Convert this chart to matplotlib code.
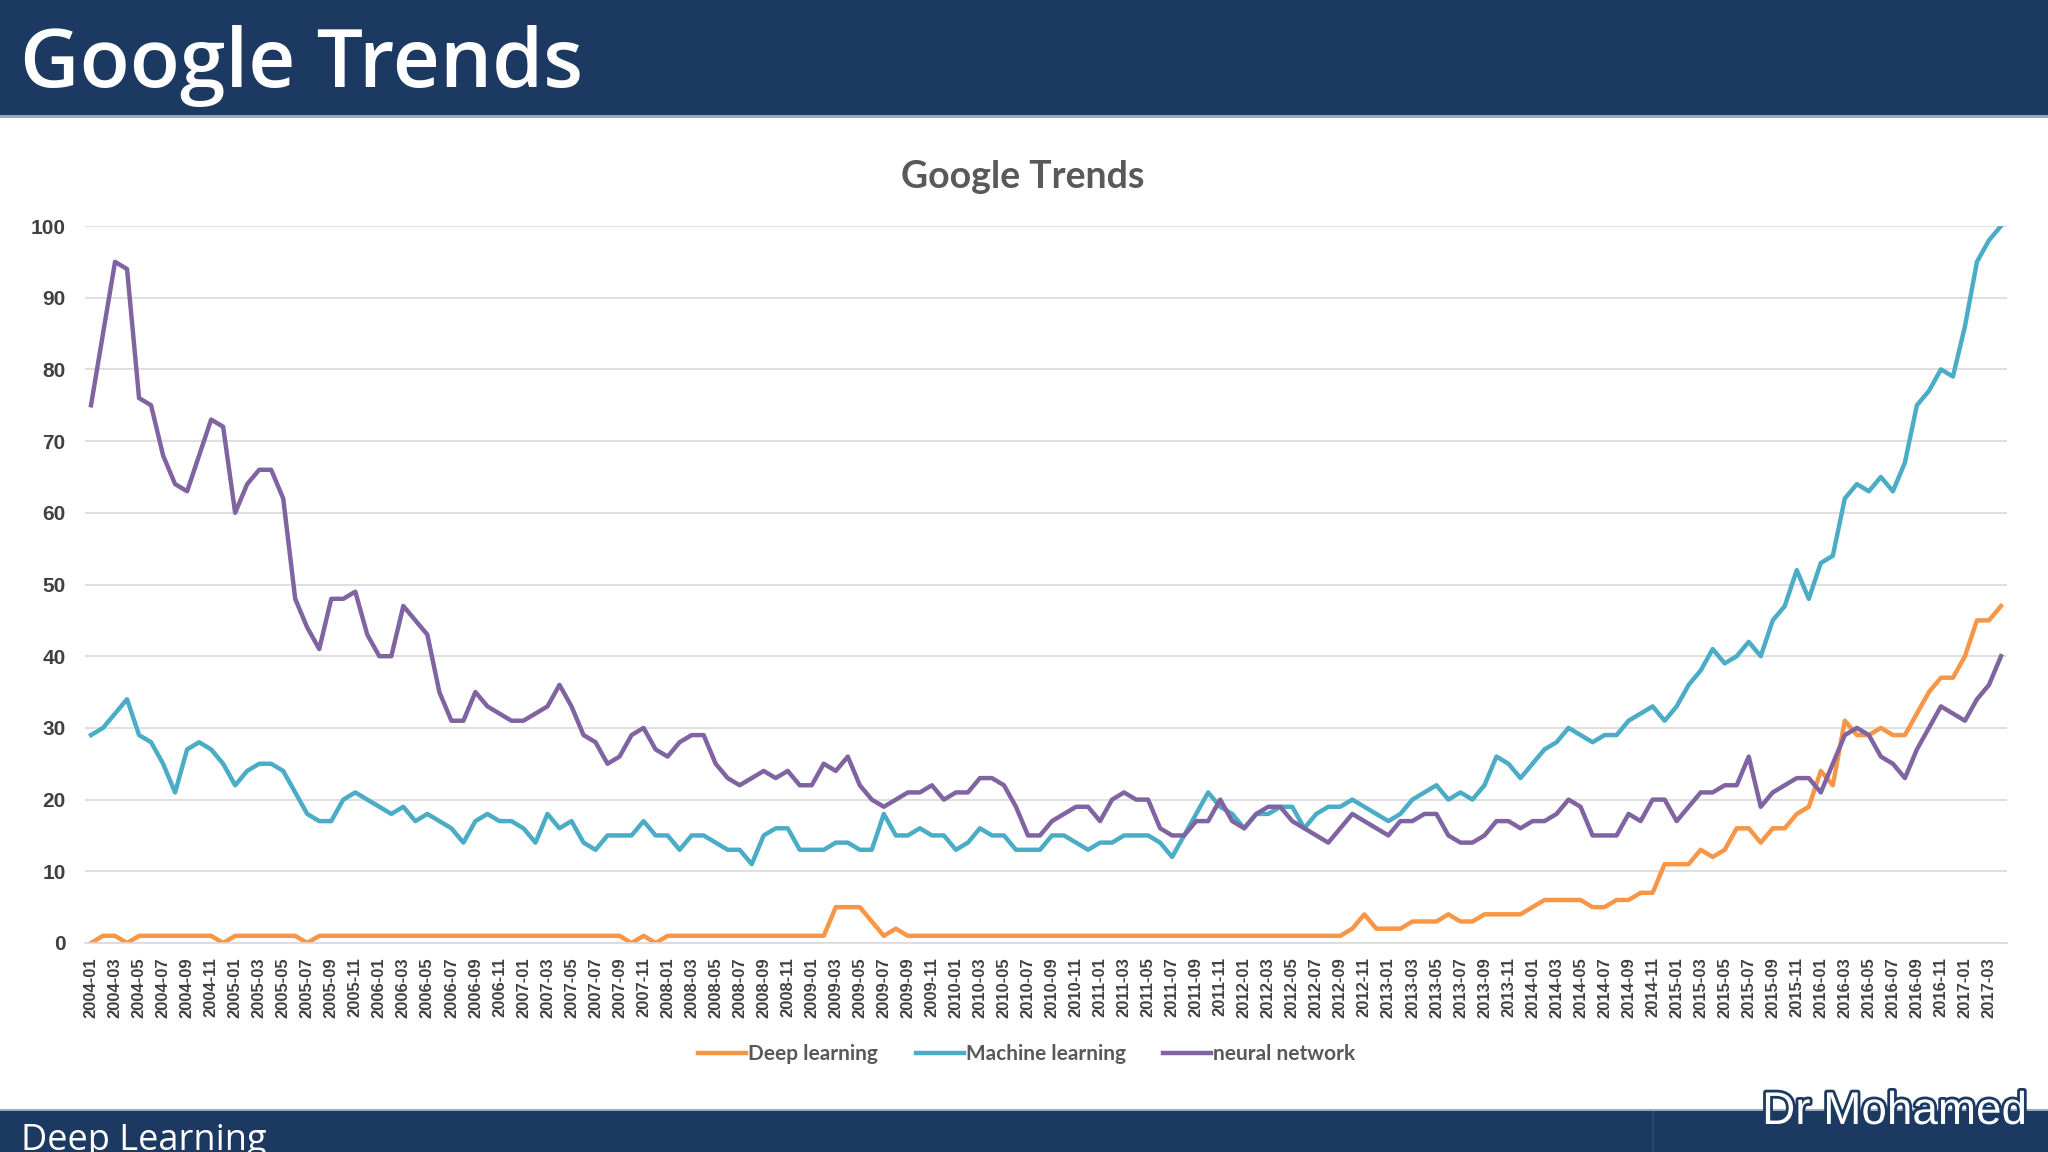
import matplotlib
matplotlib.use("Agg")
import matplotlib.pyplot as plt
from matplotlib.patches import Rectangle
import matplotlib.patheffects as pe

# months 2004-01 .. 2017-04
months = ["%d-%02d" % (2004 + i // 12, i % 12 + 1) for i in range(160)]

deep_learning = [0, 1, 1, 0, 1, 1, 1, 1, 1, 1, 1, 0,
                 1, 1, 1, 1, 1, 1, 0, 1] + [1] * 25 + [0, 1, 0] + [1] * 14 + \
                [5, 5, 5, 3, 1, 2] + [1] * 37 + \
                [2, 4, 2, 2, 2, 3, 3, 3, 4, 3, 3, 4, 4, 4, 4,
                 5, 6, 6, 6, 6, 5, 5, 6, 6, 7, 7, 11, 11, 11, 13, 12, 13, 16, 16, 14,
                 16, 16, 18, 19, 24, 22, 31, 29, 29, 30, 29, 29, 32, 35, 37, 37, 40, 45, 45, 47]

machine_learning = [29, 30, 32, 34, 29, 28, 25, 21, 27, 28, 27, 25, 22, 24, 25, 25, 24, 21, 18, 17,
                    17, 20, 21, 20, 19, 18, 19, 17, 18, 17, 16, 14, 17, 18, 17, 17, 16, 14, 18, 16,
                    17, 14, 13, 15, 15, 15, 17, 15, 15, 13, 15, 15, 14, 13, 13, 11, 15, 16, 16, 13,
                    13, 13, 14, 14, 13, 13, 18, 15, 15, 16, 15, 15, 13, 14, 16, 15, 15, 13, 13, 13,
                    15, 15, 14, 13, 14, 14, 15, 15, 15, 14, 12, 15, 18, 21, 19, 18, 16, 18, 18, 19,
                    19, 16, 18, 19, 19, 20, 19, 18, 17, 18, 20, 21, 22, 20, 21, 20, 22, 26, 25, 23,
                    25, 27, 28, 30, 29, 28, 29, 29, 31, 32, 33, 31, 33, 36, 38, 41, 39, 40, 42, 40,
                    45, 47, 52, 48, 53, 54, 62, 64, 63, 65, 63, 67, 75, 77, 80, 79, 86, 95, 98, 100]

neural_network = [75, 85, 95, 94, 76, 75, 68, 64, 63, 68, 73, 72, 60, 64, 66, 66, 62, 48, 44, 41,
                  48, 48, 49, 43, 40, 40, 47, 45, 43, 35, 31, 31, 35, 33, 32, 31, 31, 32, 33, 36,
                  33, 29, 28, 25, 26, 29, 30, 27, 26, 28, 29, 29, 25, 23, 22, 23, 24, 23, 24, 22,
                  22, 25, 24, 26, 22, 20, 19, 20, 21, 21, 22, 20, 21, 21, 23, 23, 22, 19, 15, 15,
                  17, 18, 19, 19, 17, 20, 21, 20, 20, 16, 15, 15, 17, 17, 20, 17, 16, 18, 19, 19,
                  17, 16, 15, 14, 16, 18, 17, 16, 15, 17, 17, 18, 18, 15, 14, 14, 15, 17, 17, 16,
                  17, 17, 18, 20, 19, 15, 15, 15, 18, 17, 20, 20, 17, 19, 21, 21, 22, 22, 26, 19,
                  21, 22, 23, 23, 21, 25, 29, 30, 29, 26, 25, 23, 27, 30, 33, 32, 31, 34, 36, 40]

series = [("Deep learning", deep_learning, "#F79646"),
          ("Machine learning", machine_learning, "#4BACC6"),
          ("neural network", neural_network, "#8064A2")]

navy = "#1c3961"
W, H = 2048, 1152
fig = plt.figure(figsize=(W / 100, H / 100), dpi=100)
fig.patch.set_facecolor("white")

# top banner
fig.add_artist(Rectangle((0, 1 - 115 / H), 1, 115 / H, transform=fig.transFigure,
                         facecolor=navy, edgecolor="none"))
fig.add_artist(Rectangle((0, 1 - 118 / H), 1, 3 / H, transform=fig.transFigure,
                         facecolor="#9aa9bb", edgecolor="none"))
fig.text(20 / W, 1 - 66 / H, "Google Trends", color="white", fontsize=59,
         family="Open Sans", fontweight="semibold", va="center", ha="left")

# footer
fig.add_artist(Rectangle((0, 0), 1, 41 / H, transform=fig.transFigure,
                         facecolor=navy, edgecolor="none"))
fig.add_artist(Rectangle((0, 41 / H), 1, 2 / H, transform=fig.transFigure,
                         facecolor="#9aa9bb", edgecolor="none"))
fig.add_artist(Rectangle((1652 / W, 0), 2 / W, 41 / H, transform=fig.transFigure,
                         facecolor="#2b4870", edgecolor="none"))
fig.text(21 / W, 2 / H, "Deep Learning", color="white", fontsize=26,
         family="Open Sans", va="baseline", ha="left")
fig.text(2027 / W, 1 - 1124 / H, "Dr Mohamed", color="white", fontsize=33,
         family="Liberation Sans", ha="right", va="baseline",
         path_effects=[pe.withStroke(linewidth=4, foreground=navy)])

# chart
ax = fig.add_axes([85 / W, 1 - 943 / H, (2007 - 85) / W, (943 - 226) / H])
x = list(range(len(months)))
for name, vals, col in series:
    ax.plot(x, vals, color=col, lw=3.2, label=name, solid_joinstyle="round")

ax.set_xlim(-0.5, len(months) - 0.5)
ax.set_ylim(0, 100)
ax.set_yticks(range(0, 101, 10))
ax.grid(axis="y", color="#d9d9d9", lw=1.2)
ax.set_axisbelow(True)
for s in ["top", "right", "left"]:
    ax.spines[s].set_visible(False)
ax.spines["bottom"].set_color("#d9d9d9")
ax.spines["bottom"].set_linewidth(1.2)
ax.tick_params(length=0)
ax.set_xticks(x[::2])
ax.set_xticklabels(months[::2], rotation=90, fontsize=12, fontweight="bold",
                   color="#404040", family="Liberation Sans")
for lab in ax.get_yticklabels():
    lab.set_fontsize(15)
    lab.set_fontweight("bold")
    lab.set_color("#404040")
    lab.set_family("Liberation Sans")
ax.tick_params(axis="y", pad=14)
ax.tick_params(axis="x", pad=10)

fig.text(1023 / W, 1 - 177 / H, "Google Trends", color="#595959", fontsize=27,
         fontweight="bold", family="Lato", ha="center", va="center")

leg = fig.legend(loc="center", bbox_to_anchor=(1027 / W, 1 - 1054 / H), ncol=3,
                 frameon=False, handlelength=2.3, handletextpad=0.1, columnspacing=1.8,
                 prop={"family": "Lato", "weight": "bold", "size": 15})
for t in leg.get_texts():
    t.set_color("#595959")

fig.savefig("out.png", dpi=100, facecolor="white")
